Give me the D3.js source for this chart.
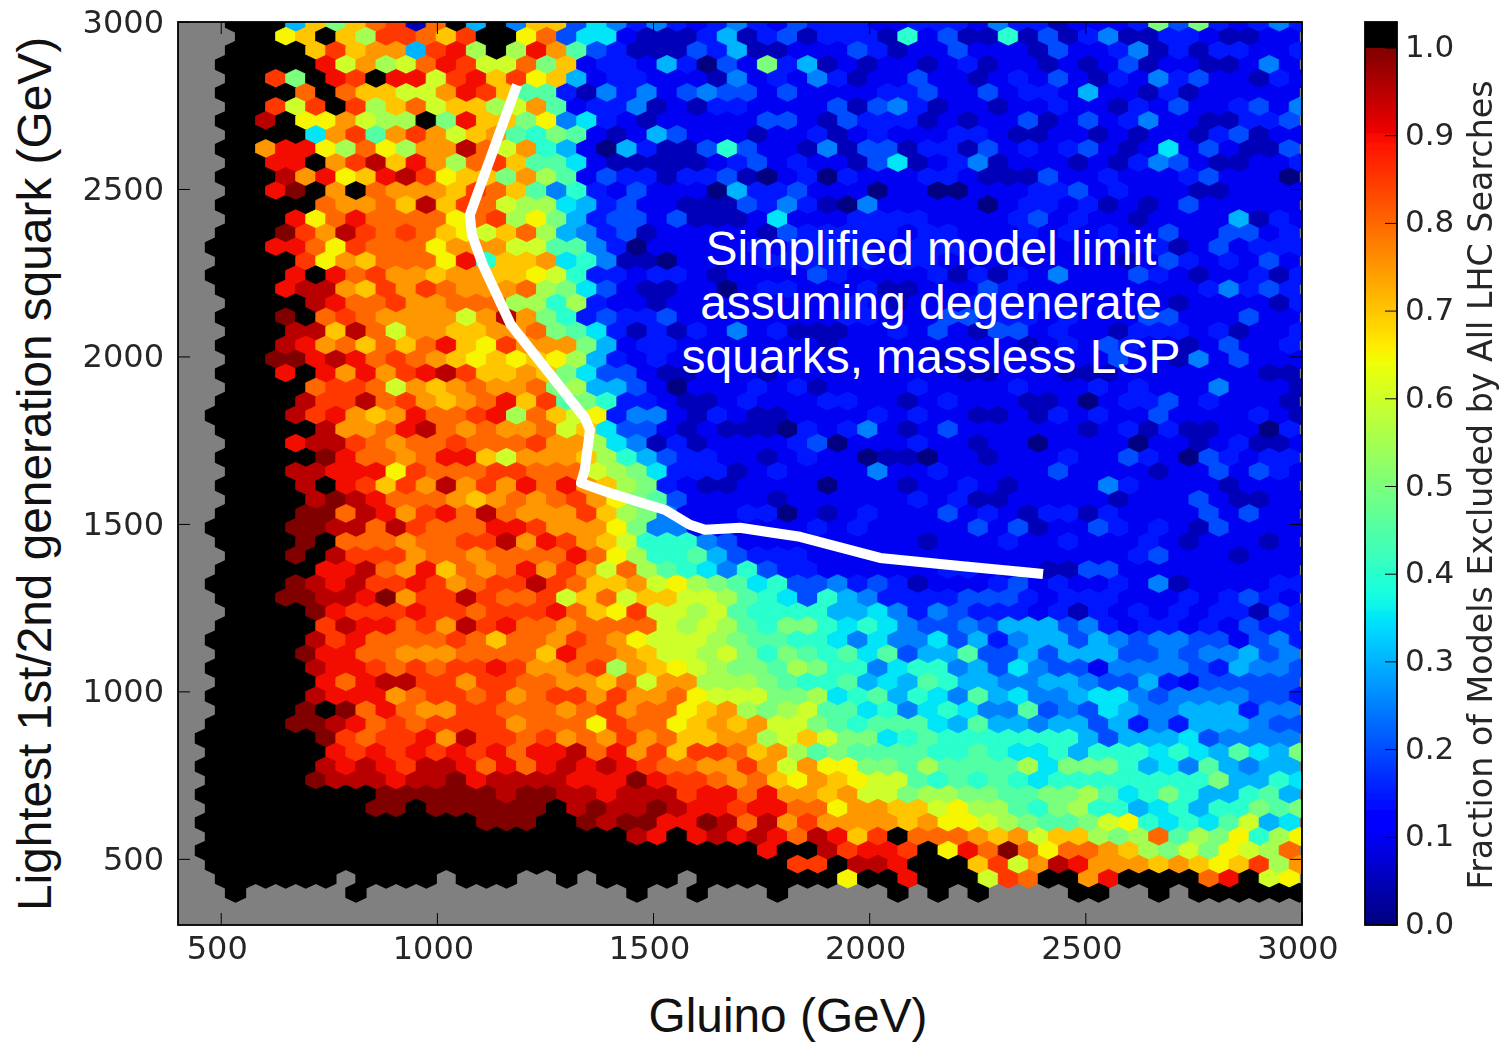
<!DOCTYPE html>
<html><head><meta charset="utf-8">
<script src="https://cdn.jsdelivr.net/npm/d3@7"></script>
<style>html,body{margin:0;padding:0;background:#fff}svg{display:block}</style>
</head><body><svg id="c" width="1505" height="1042"></svg>
<script>
// Fraction of models excluded, one string per hexbin row (top to bottom).
// '.' empty bin, '#' fraction above colour range, 0-9 a-k = level/20.
const hexRows = [
"..###6eaeg h1g#6#5ee4 7535323532 4333223332 53312223a4 a32353",
"...##de#eb hhgeh##dg4 7721113613 4133318241 1814135113 321122",
"..####ehef f6hib#bif9 4311143611 2224312242 2214223513 133223",
"..#####icf bcgihccgae 2332630 42a 3612122123 1221212412 211252",
"..##ha#ih# iichiehde6 2332221523 2531224221 2324213253 422132",
"..####g#ge eccfihe993 1535245442 4222233422 4233262213 122222",
"..##hch#hb egceebcf92 3351213322 2241453122 1223221324 223425",
"..##j#ddfc bb#aieead5 7321222224 4214333121 2241242352 211334",
"..####7fh9 fhfcef98a9 2126422212 2312322233 2112212122 134122",
"..##fiidbg dbffjgcf86 2063114842 2151441331 4232342127 242114",
"..##ii#fhj eifbghe997 2111112342 3221471235 1222121354 211223",
"..###jfide ijhdeeafb9 2433133410 2303222332 1114223222 342220",
"..##ik#f#g fffehge958 3242220633 4222022002 2233423222 112222",
"..#####gff gejehgcbb7 6342211143 5310522222 0233231212 422222",
"..###idgig gggdghbda6 3442411127 2223333222 2342322122 226132",
"..###khfjh ghgedcegb6 5341222221 4333332332 2232323224 224423",
".###iigdhg ggdfffcc99 5302222232 3333223332 2222222231 242333",
"..####hdfe gggdi8eef7 8511022223 3333323322 2222222124 323242",
".####i#igh ffeffeedc8 3323321222 2432222313 1325222432 122313",
"..###ijjfe hfhgfffgba 7421122023 3222311222 4322222222 235343",
"..####jigg hffgggbb8b 3221222222 2223212223 3232222221 222213",
"..###k#ghg ffffcfjfa8 3433422222 2223322244 3332322244 222422",
"..###jjejg cffeeffga9 7313132523 1112232421 4423221333 231223",
"..###jifge gegiedhfff a623322222 2212222222 2212324322 124223",
"..##kkijig hgfedededb 6323222222 2222222122 2222224221 524222",
"..###i#ifi fhijheefea 7442112221 2222222221 1222111222 222211",
"..####ghhg cfefgffgab 6642022232 3122223222 2322232322 252221",
"..####jhhj ghfefgieh9 a833211232 2233221232 2211202334 232221",
".####jhife figghibgec d355213211 2222323221 1213232242 222321",
"..#####jff gijgfgffgc e744212111 0323521242 2222212313 112203",
"..###ijjhg fgghggghff b751312222 3402223221 2202222022 123112",
"..#####kig gfgiiecfff eb86433221 2322011022 1222322432 043233",
"..###jjiii dhggghhggg cba7333123 2222522322 2224222212 242432",
"..####j#ih ehfjfhfigi feba321122 2202221223 2122225322 221222",
"..####jkji gggfefgfgh fda9422221 2222223231 1222221222 421122",
"..####kkgj ifhigjgfff heba522233 0212322242 3213313222 242422",
".####kkjjg jhgggiihff fda5522222 2323222224 2412243232 142222",
"..####k#gg gfgghhjfih fec8885422 2222222122 2322322232 122212",
"..###k#jhh hfggfggggi gdb8896433 3222222222 2222222342 221222",
"..#####iij gfiegfgifh fcgb987584 3322222233 2221144222 222222",
".####kjijh hihfghhjhg eefcdba978 4453431222 3423223251 222233",
"..###kkjji kfhhjhgghc egceeccb98 7486533334 4432333222 323432",
"..####kihh hihhghhhig edhccbc988 8866753543 3323132323 233143",
"..#####hji ighfjhiggf ggggcbcb98 aa87875445 4666453233 232433",
".#####jhig ggghgeggfh gfdcccba99 8875755746 3566465455 442453",
"..####kiig gfffggggei ggfeccbca8 a989794669 4464666445 455645",
".#####jiih ghghhihffg hbfedcbaa9 ba88578856 4754425555 436554",
"..#####igi jjhhfhhggf fegcffbbba 9889676986 6556654463 244444",
".#####jiii fghhghfghh fhffgdccca ab78968759 6755677545 555443",
"..####k#kg igffhhgggf ghfggdefba bc99785787 5594547655 666355",
".####kkjig hghhhhfggg dhggdefefc ca98999769 6656646353 666544",
".######khg hhifjhhghf gfhfgeeffb cecaa78988 8888864666 745555",
".######ihi hihihigiij gifhehhgef b9a9999889 8778688878 76976a",
".######jij ihjjigigij ijihggffhf cfddaa9b99 99b7aaa867 596566",
".#####kjjj ijjkijjjji iikihhgfge dfedcc9898 9878888888 8a6687",
".######### kkkkkkjkkj jijjjhiigi ffefccabba a99aab978a 866896",
".########k k#kkkkkk#j kjjkjiihii ggdffeecdb b98ab88678 688a9a",
".######### #####kkk## kjkkiikjgj fhffffefdd cba99acd87 879c67",
".######### ########## ##ji#ijiji gjieh#gggf efceebabg9 bad8bd",
".######### ########## #########i ##jhiih#di gkgdggfeba cadcbg",
".######### ########## ########## hh#jji###e hcfjifffef edehbf",
"..######.# ###.###..# .####.#### ###d##i### chg##fi### #gi#cd",
"..#.....#. .......... ..#..#...# .....#.#.# ....##..#. ######"
].map(s => s.replace(/ /g, ""));
const levelChars = "0123456789abcdefghijk";

const xTicks = [500, 1000, 1500, 2000, 2500, 3000];
const yTicks = [500, 1000, 1500, 2000, 2500, 3000];
const cbTicks = [0, 0.1, 0.2, 0.3, 0.4, 0.5, 0.6, 0.7, 0.8, 0.9, 1.0];
const limitX = [1184,1075,1080,1105,1170,1341,1353,1341,1332,1399,1527,1584,1619,1700,1839,2024,2209,2401];
const limitY = [2812,2424,2364,2275,2096,1818,1782,1663,1624,1594,1543,1499,1484,1490,1463,1400,1376,1352];
const noteLines = ["Simplified model limit", "assuming degenerate", "squarks, massless LSP"];
const xTitle = "Gluino (GeV)";
const yTitle = "Lightest 1st/2nd generation squark (GeV)";
const cbTitle = "Fraction of Models Excluded by All LHC Searches";

const binDX = 2600 / 56, binDY = 41.9, binX0 = 417, binY0 = 2998;

const L = 178, R = 1302, T = 22, B = 925;
const x = d3.scaleLinear().domain([400, 3000]).range([L, R]);
const y = d3.scaleLinear().domain([304, 3000]).range([B, T]);
const cbX0 = 1365, cbX1 = 1397;
const cbY = d3.scaleLinear().domain([0, 1]).range([925, 48]);

const rS = d3.scaleLinear().domain([0, .35, .66, .89, 1]).range([0, 0, 1, 1, .5]).clamp(true);
const gS = d3.scaleLinear().domain([0, .125, .375, .64, .91, 1]).range([0, 0, 1, 1, 0, 0]).clamp(true);
const bS = d3.scaleLinear().domain([0, .11, .34, .65, 1]).range([.5, 1, 1, 0, 0]).clamp(true);
const jet = v => d3.rgb(rS(v) * 255, gS(v) * 255, bS(v) * 255).formatHex();

const cells = [];
hexRows.forEach((row, k) => {
  [...row].forEach((ch, c) => {
    if (ch === ".") return;
    const cx = binX0 + binDX * (c + (k % 2 === 0 ? 0.5 : 0));
    const cy = binY0 - binDY * k;
    cells.push({cx, cy, over: ch === "#", v: ch === "#" ? 1.1 : levelChars.indexOf(ch) / 20});
  });
});

const svg = d3.select("#c");
const defs = svg.append("defs");
defs.append("clipPath").attr("id", "plot").append("rect")
  .attr("x", L).attr("y", T).attr("width", R - L).attr("height", B - T);
defs.append("filter").attr("id", "soft").attr("x", "-5%").attr("y", "-5%").attr("width", "110%").attr("height", "110%")
  .append("feGaussianBlur").attr("stdDeviation", 0.7);
const grad = defs.append("linearGradient").attr("id", "jetg").attr("x1", 0).attr("x2", 0).attr("y1", 1).attr("y2", 0);
d3.range(0, 1.0001, 0.01).forEach(v => grad.append("stop").attr("offset", v).attr("stop-color", jet(v)));

// plot
const plot = svg.append("g").attr("clip-path", "url(#plot)");
const hexG = plot.append("g").attr("filter", "url(#soft)");
hexG.append("rect").attr("x", L - 5).attr("y", T - 5).attr("width", R - L + 10).attr("height", B - T + 10).attr("fill", "#808080");
const hw = (x(binDX) - x(0)) / 2, hv = (y(0) - y(binDY)) * 2 / 3;
const hexPath = `M0,${-hv}L${hw},${-hv / 2}L${hw},${hv / 2}L0,${hv}L${-hw},${hv / 2}L${-hw},${-hv / 2}Z`;
hexG.selectAll("path").data(cells).join("path")
  .attr("d", hexPath)
  .attr("transform", d => `translate(${x(d.cx)},${y(d.cy)})`)
  .attr("fill", d => d.over ? "#000" : jet(d.v))
  .attr("stroke", d => d.over ? "#000" : jet(d.v))
  .attr("stroke-width", d => d.over ? 1.2 : 0.9);

// limit curve
const line = d3.line().x((d, i) => x(limitX[i])).y((d, i) => y(limitY[i]));
svg.append("path").attr("d", line(limitX)).attr("fill", "none").attr("stroke", "#fff")
  .attr("stroke-width", 10).attr("stroke-linejoin", "round");

// axes frame and ticks
const axes = svg.append("g").attr("filter", "url(#soft)");
axes.append("rect").attr("x", L).attr("y", T).attr("width", R - L).attr("height", B - T)
  .attr("fill", "none").attr("stroke", "#000").attr("stroke-width", 1.8);
const tickLen = 12;
const labelFill = "#262626";
xTicks.forEach(t => {
  const px = x(t);
  axes.append("line").attr("x1", px).attr("x2", px).attr("y1", B).attr("y2", B - tickLen).attr("stroke", "#000").attr("stroke-width", 1);
  axes.append("line").attr("x1", px).attr("x2", px).attr("y1", T).attr("y2", T + tickLen).attr("stroke", "#000").attr("stroke-width", 1);
  axes.append("text").attr("x", px - 4).attr("y", 959).attr("text-anchor", "middle")
    .attr("font-family", "DejaVu Sans").attr("font-size", 32).attr("fill", labelFill).text(t);
});
yTicks.forEach(t => {
  const py = y(t);
  axes.append("line").attr("x1", L).attr("x2", L + tickLen).attr("y1", py).attr("y2", py).attr("stroke", "#000").attr("stroke-width", 1);
  axes.append("line").attr("x1", R).attr("x2", R - tickLen).attr("y1", py).attr("y2", py).attr("stroke", "#000").attr("stroke-width", 1);
  axes.append("text").attr("x", 164).attr("y", py + 10.5).attr("text-anchor", "end")
    .attr("font-family", "DejaVu Sans").attr("font-size", 32).attr("fill", labelFill).text(t);
});

// colour bar
const cb = svg.append("g").attr("filter", "url(#soft)");
cb.append("rect").attr("x", cbX0).attr("y", T).attr("width", cbX1 - cbX0).attr("height", cbY(1) - T).attr("fill", "#000");
cb.append("rect").attr("x", cbX0).attr("y", cbY(1)).attr("width", cbX1 - cbX0).attr("height", cbY(0) - cbY(1)).attr("fill", "url(#jetg)");
cb.append("rect").attr("x", cbX0).attr("y", T).attr("width", cbX1 - cbX0).attr("height", B - T)
  .attr("fill", "none").attr("stroke", "#000").attr("stroke-width", 1.8);
cbTicks.forEach(t => {
  const py = cbY(t);
  cb.append("line").attr("x1", cbX1).attr("x2", cbX1 - 12).attr("y1", py).attr("y2", py).attr("stroke", "#000").attr("stroke-width", 1);
  cb.append("text").attr("x", 1405).attr("y", py + 9).attr("font-family", "DejaVu Sans").attr("font-size", 31).attr("fill", labelFill).text(t.toFixed(1));
});
cb.append("text").attr("transform", "translate(1492,485) rotate(-90)").attr("text-anchor", "middle")
  .attr("font-family", "DejaVu Sans").attr("font-size", 33.3).attr("fill", labelFill).text(cbTitle);

// titles
const sans = "Liberation Sans";
svg.append("text").attr("x", 788).attr("y", 1032).attr("text-anchor", "middle")
  .attr("font-family", sans).attr("font-size", 47.8).attr("fill", "#111").text(xTitle);
svg.append("text").attr("transform", "translate(51,474) rotate(-90)").attr("text-anchor", "middle")
  .attr("font-family", sans).attr("font-size", 47.8).attr("fill", "#111").text(yTitle);
svg.append("g").selectAll("text").data(noteLines).join("text")
  .attr("x", 931).attr("y", (d, i) => 265 + i * 54).attr("text-anchor", "middle")
  .attr("font-family", sans).attr("font-size", 48).attr("fill", "#fff").text(d => d);
</script></body></html>
